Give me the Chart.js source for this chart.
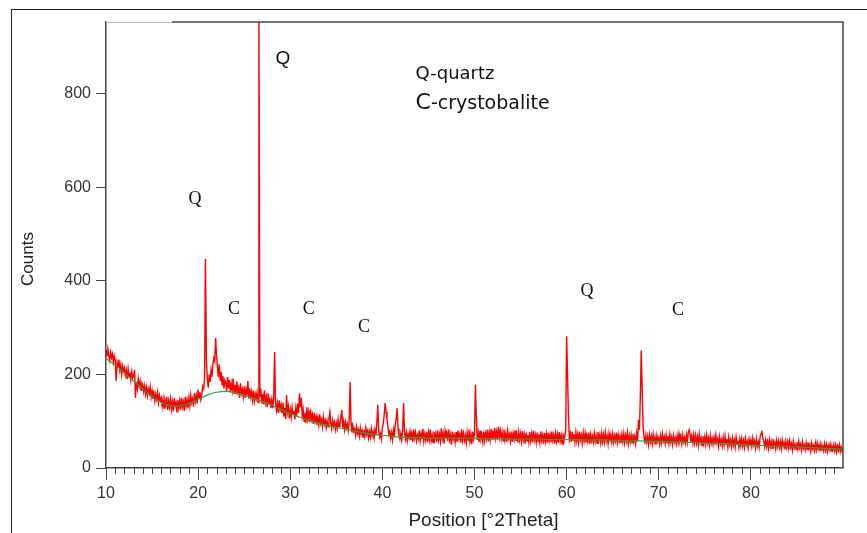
<!DOCTYPE html>
<html>
<head>
<meta charset="utf-8">
<script src="https://cdn.jsdelivr.net/npm/chart.js@4.4.0/dist/chart.umd.min.js"></script>
<style>
  html, body { margin: 0; padding: 0; background: #fff; }
</style>
</head>
<body>
<canvas id="xrd" width="867" height="533"></canvas>
<script>
// measured scan, 10.0 to 90.0 °2Theta in 0.1° steps (one row per degree)
const scanStart = 10
const scanStep = 0.1
const counts = [
  252, 238, 255, 241, 230, 248, 236, 244, 226, 240,
  231, 186, 225, 214, 232, 209, 221, 200, 218, 207,
  214, 198, 209, 190, 212, 195, 204, 188, 206, 192,
  198, 210, 150, 184, 170, 191, 175, 186, 166, 182,
  178, 163, 176, 158, 172, 155, 169, 160, 174, 152,
  165, 148, 160, 143, 158, 147, 162, 140, 155, 144,
  150, 132, 148, 128, 145, 136, 152, 124, 143, 130,
  147, 126, 142, 121, 149, 133, 140, 119, 145, 128,
  144, 125, 150, 131, 141, 122, 152, 134, 146, 128,
  150, 133, 156, 140, 148, 131, 160, 143, 155, 138,
  168, 150, 162, 146, 158, 175, 170, 192, 447, 230,
  190, 172, 200, 184, 210, 195, 222, 235, 228, 278,
  240, 215, 195, 222, 186, 205, 178, 196, 170, 188,
  182, 165, 195, 170, 188, 162, 180, 166, 192, 160,
  178, 158, 185, 163, 172, 150, 181, 160, 168, 152,
  175, 150, 168, 155, 186, 148, 170, 152, 164, 145,
  165, 143, 158, 148, 162, 140, 1000, 152, 170, 138,
  158, 136, 166, 140, 152, 130, 160, 138, 150, 128,
  146, 128, 150, 248, 140, 123, 138, 118, 145, 125,
  135, 118, 140, 110, 128, 105, 156, 120, 132, 106,
  125, 108, 130, 115, 122, 104, 128, 112, 138, 118,
  160, 130, 150, 112, 125, 100, 118, 96, 130, 105,
  120, 98, 125, 104, 114, 94, 118, 100, 110, 92,
  108, 92, 115, 96, 104, 88, 110, 94, 102, 86,
  100, 88, 106, 120, 96, 84, 102, 90, 98, 82,
  96, 84, 104, 88, 95, 110, 124, 86, 100, 82,
  98, 85, 94, 80, 102, 184, 96, 76, 90, 78,
  84, 70, 88, 74, 82, 68, 86, 72, 80, 66,
  82, 68, 86, 72, 80, 64, 78, 66, 84, 70,
  78, 64, 82, 70, 96, 135, 80, 66, 74, 62,
  86, 95, 115, 139, 120, 104, 88, 72, 78, 64,
  76, 60, 82, 66, 92, 106, 128, 84, 70, 62,
  74, 60, 80, 139, 78, 62, 76, 58, 72, 64,
  78, 60, 74, 56, 82, 64, 76, 58, 70, 62,
  80, 58, 74, 62, 84, 57, 72, 60, 78, 55,
  76, 61, 82, 58, 70, 54, 78, 63, 74, 56,
  80, 60, 72, 57, 85, 62, 74, 52, 79, 64,
  75, 58, 82, 60, 71, 50, 78, 62, 70, 55,
  77, 56, 80, 63, 72, 54, 83, 60, 74, 58,
  70, 53, 76, 60, 82, 57, 72, 51, 78, 62,
  74, 178, 110, 60, 76, 56, 80, 62, 70, 55,
  78, 58, 74, 63, 82, 57, 76, 60, 84, 62,
  80, 61, 86, 64, 78, 60, 88, 66, 80, 62,
  76, 58, 82, 60, 74, 55, 80, 64, 72, 57,
  78, 56, 74, 61, 80, 58, 72, 54, 77, 60,
  74, 57, 79, 60, 72, 52, 76, 58, 70, 55,
  77, 58, 73, 55, 80, 60, 71, 54, 76, 57,
  72, 55, 78, 59, 70, 52, 75, 57, 73, 54,
  76, 58, 71, 55, 78, 59, 70, 52, 74, 57,
  72, 54, 77, 58, 70, 52, 74, 57, 68, 80,
  282, 200, 110, 62, 74, 56, 78, 60, 72, 55,
  76, 58, 72, 55, 78, 60, 70, 53, 75, 58,
  74, 54, 70, 57, 76, 52, 72, 58, 68, 55,
  75, 57, 70, 53, 77, 60, 71, 54, 74, 56,
  72, 56, 76, 58, 69, 52, 74, 57, 70, 55,
  73, 55, 69, 58, 76, 54, 71, 57, 68, 53,
  72, 56, 74, 54, 70, 58, 75, 52, 69, 56,
  71, 54, 73, 57, 68, 52, 74, 58, 103, 82,
  150, 252, 167, 90, 66, 52, 70, 55, 68, 50,
  71, 56, 68, 52, 72, 55, 66, 50, 70, 57,
  64, 51, 69, 54, 73, 58, 67, 52, 70, 54,
  68, 52, 72, 55, 66, 50, 70, 56, 64, 52,
  69, 54, 73, 58, 67, 52, 71, 56, 65, 53,
  70, 55, 76, 82, 72, 56, 68, 53, 71, 54,
  70, 53, 66, 49, 72, 55, 64, 48, 68, 52,
  67, 51, 70, 54, 64, 49, 69, 53, 63, 50,
  66, 50, 70, 54, 62, 46, 67, 52, 61, 47,
  65, 49, 68, 51, 62, 45, 66, 50, 60, 46,
  64, 49, 60, 45, 66, 51, 58, 44, 62, 48,
  63, 47, 59, 44, 64, 50, 57, 43, 61, 47,
  60, 46, 64, 50, 58, 43, 62, 47, 56, 44,
  66, 74, 80, 62, 58, 45, 60, 46, 57, 42,
  60, 45, 57, 42, 62, 48, 55, 41, 59, 46,
  58, 44, 56, 41, 60, 46, 54, 40, 57, 44,
  56, 42, 58, 44, 52, 38, 57, 43, 50, 40,
  55, 41, 57, 43, 51, 38, 56, 42, 49, 39,
  54, 40, 55, 42, 50, 36, 53, 41, 48, 37,
  53, 39, 54, 41, 49, 36, 52, 40, 47, 37,
  52, 38, 50, 35, 48, 40, 51, 36, 46, 39,
  50, 37, 49, 34, 47, 38, 50, 35, 45, 36,
  44
]

// fitted background, one value per degree from 10 to 90
const bgStart = 10
const background = [
  234, 220, 203, 186, 169, 153, 140, 133, 133, 138,
  147, 156, 162, 164, 161, 155, 149, 142, 134, 125,
  116, 109, 102, 96, 91, 87, 83, 79, 75, 72,
  70, 68, 66, 65, 65, 64, 64, 64, 64, 64,
  64, 63, 63, 63, 62, 62, 62, 62, 61, 61,
  61, 61, 60, 60, 60, 59, 59, 58, 58, 57,
  57, 56, 56, 55, 54, 53, 53, 52, 51, 50,
  49, 48, 47, 47, 46, 45, 44, 43, 42, 41,
  40
]

const xTicks = [10, 20, 30, 40, 50, 60, 70, 80]
const yTicks = [0, 200, 400, 600, 800]

// phase markers: Q = quartz, C = cristobalite
const markText = ['Q', 'Q', 'C', 'C', 'C', 'Q', 'C']
const markPos = [29.2, 19.65, 23.9, 32.0, 38.0, 62.2, 72.1]
const markCounts = [875, 575, 340, 340, 300, 379, 338]

const sans = "'Liberation Sans', Arial, sans-serif"
const wide = "'DejaVu Sans', Verdana, sans-serif"
const serif = "'Liberation Serif', 'Times New Roman', serif"

const scanData = counts.map((c, i) => ({ x: +(scanStart + i * scanStep).toFixed(1), y: c }))
const bgData = background.map((c, i) => ({ x: bgStart + i, y: c }))

const decorations = {
  id: 'decorations',
  beforeDraw (chart) {
    const { ctx } = chart
    ctx.save()
    ctx.fillStyle = '#fff'
    ctx.fillRect(0, 0, chart.width, chart.height)
    ctx.strokeStyle = '#222'
    ctx.lineWidth = 1
    ctx.strokeRect(11.5, 9.5, chart.width, chart.height)
    ctx.restore()
  },
  afterDraw (chart) {
    const { ctx, chartArea: a, scales: { x, y } } = chart
    ctx.save()

    // minor ticks every degree
    ctx.strokeStyle = '#444'
    ctx.lineWidth = 1
    for (let v = 11; v < 90; v++) {
      if (v % 10 === 0) continue
      const px = Math.round(x.getPixelForValue(v)) + 0.5
      ctx.beginPath()
      ctx.moveTo(px, a.bottom)
      ctx.lineTo(px, a.bottom + 6)
      ctx.stroke()
    }

    // top and right edges of the plot box
    ctx.lineWidth = 1.5
    ctx.beginPath()
    ctx.moveTo(a.right, a.bottom)
    ctx.lineTo(a.right, a.top)
    ctx.lineTo(a.left + 66, a.top)
    ctx.stroke()
    ctx.strokeStyle = '#bbb'
    ctx.lineWidth = 1
    ctx.beginPath()
    ctx.moveTo(a.left, a.top + 0.5)
    ctx.lineTo(a.left + 66, a.top + 0.5)
    ctx.stroke()

    // axis titles
    ctx.fillStyle = '#222'
    ctx.textAlign = 'center'
    ctx.textBaseline = 'middle'
    ctx.font = `19px ${sans}`
    ctx.fillText('Position [°2Theta]', (a.left + a.right) / 2 + 9, a.bottom + 53)
    ctx.save()
    ctx.translate(28, (a.top + a.bottom) / 2 + 14)
    ctx.rotate(-Math.PI / 2)
    ctx.font = `17px ${sans}`
    ctx.fillText('Counts', 0, 0)
    ctx.restore()

    // phase markers
    ctx.fillStyle = '#111'
    markText.forEach((t, i) => {
      ctx.font = i === 0 ? `19px ${sans}` : `18px ${serif}`
      ctx.fillText(t, x.getPixelForValue(markPos[i]), y.getPixelForValue(markCounts[i]))
    })

    // key
    const kx = x.getPixelForValue(43.6)
    ctx.textAlign = 'left'
    ctx.textBaseline = 'alphabetic'
    ctx.font = `18px ${wide}`
    ctx.fillText('Q-quartz', kx, y.getPixelForValue(845) + 6)
    ctx.font = `22px ${wide}`
    const cy = y.getPixelForValue(783) + 7
    ctx.fillText('C', kx, cy)
    const cw = ctx.measureText('C').width
    ctx.font = `19px ${wide}`
    ctx.fillText('-crystobalite', kx + cw, cy)

    ctx.restore()
  }
}

// eslint-disable-next-line no-unused-vars, no-undef
const chart = new Chart(document.getElementById('xrd'), {
  type: 'line',
  data: {
    datasets: [{
      label: 'Background',
      data: bgData,
      borderColor: '#3c9a3c',
      borderWidth: 1.2,
      pointRadius: 0,
      tension: 0.4
    }, {
      label: 'Scan',
      data: scanData,
      borderColor: '#ff0000',
      borderWidth: 1.4,
      pointRadius: 0,
      tension: 0
    }]
  },
  options: {
    responsive: false,
    animation: false,
    layout: { padding: { top: 22, right: 24, left: 0, bottom: 0 } },
    scales: {
      x: {
        type: 'linear',
        min: 10,
        max: 90,
        afterBuildTicks: s => { s.ticks = xTicks.map(value => ({ value })) },
        afterFit: s => { s.height = 65 },
        grid: { drawOnChartArea: false, tickLength: 12, tickColor: '#444', tickWidth: 1 },
        border: { color: '#444', width: 1.5 },
        ticks: { font: { family: sans, size: 16 }, color: '#333', padding: 4, maxRotation: 0, autoSkip: false }
      },
      y: {
        min: 0,
        max: 954,
        afterBuildTicks: s => { s.ticks = yTicks.map(value => ({ value })) },
        afterFit: s => { s.width = 106 },
        grid: { drawOnChartArea: false, tickLength: 10, tickColor: '#444', tickWidth: 1 },
        border: { color: '#444', width: 1.5 },
        ticks: { font: { family: sans, size: 16 }, color: '#333', padding: 5 }
      }
    },
    plugins: {
      legend: { display: false },
      tooltip: { enabled: false }
    }
  },
  plugins: [decorations]
})
</script>
</body>
</html>
